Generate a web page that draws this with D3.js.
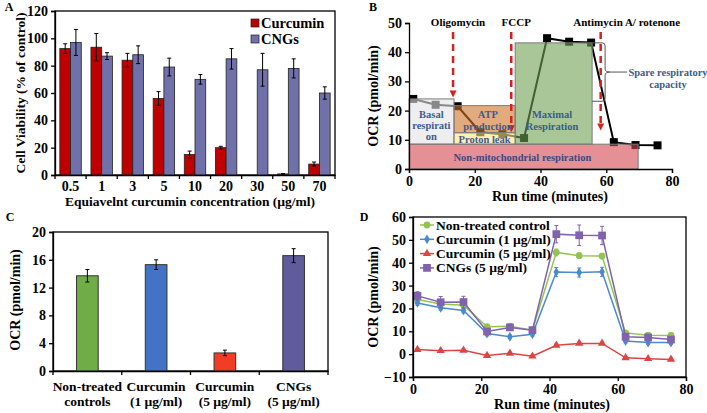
<!DOCTYPE html>
<html><head><meta charset="utf-8">
<script src="https://cdn.jsdelivr.net/npm/d3@7"></script>
<style>
body{margin:0;background:#fff;}
svg text{font-family:"Liberation Serif","Times New Roman",serif;font-weight:bold;}
</style></head>
<body><svg id="c" width="707" height="413"></svg>
<script>
// ---------- Panel A data ----------
const concLabels = ["0.5","1","3","5","10","20","30","50","70"];
const curcuminViab = [92.5,93.5,84,56,15,20,0,0.8,8];
const curcuminErr  = [3.5,10,5,5,2.5,1,0,0.3,1.5];
const cngViab = [97,87,88,79,70,85,77,78,60];
const cngErr  = [9.5,2.5,6.5,6.5,3.5,7.5,12,7,4.5];
const viabTicks = [0,20,40,60,80,100,120];

// ---------- Panel B data ----------
const runTimes = [1.3,8.1,14.8,21.7,28.4,35,42,48.7,55.4,62.3,68.9,75.6];
const ocrProfile = [24,22,21.5,12.6,11.9,10.6,44.8,43.6,43.3,9.2,8.2,8.1];
const profileBoxes = [
  {name:"basal", x0:0, x1:13.7, y0:8.5, y1:24},
  {name:"atp", x0:13.7, x1:32.3, y0:12.4, y1:21.7},
  {name:"leak", x0:13.7, x1:32.3, y0:8.5, y1:12.4},
  {name:"maximal", x0:32.3, x1:55.7, y0:8.5, y1:43.2},
  {name:"nonmito", x0:0, x1:69.7, y0:0, y1:8.5}
];
const injections = [
  {name:"Oligomycin", t:13.4, end:24.5},
  {name:"FCCP", t:31.1, end:12.6},
  {name:"Antimycin A/ rotenone", t:58.3, end:13.2}
];
const timeTicks = [0,20,40,60,80];
const ocrTicksB = [0,10,20,30,40,50];

// ---------- Panel C data ----------
const groupsC = [["Non-treated","controls"],["Curcumin","(1 µg/ml)"],["Curcumin","(5 µg/ml)"],["CNGs","(5 µg/ml)"]];
const ocrC = [13.7,15.3,2.6,16.6];
const ocrCErr = [0.9,0.7,0.4,1.0];
const ocrTicksC = [0,4,8,12,16,20];

// ---------- Panel D data ----------
const seriesNames = ["Non-treated control","Curcumin (1 µg/ml)","Curcumin (5 µg/ml)","CNGs (5 µg/ml)"];
const ctrlOCR = [23.9,21.9,21.4,12.0,12.2,10.5,44.5,43.1,42.9,9.3,8.3,8.2];
const ctrlErr = [1.2,1,1,1,1,1,1.5,1.2,1.2,1,1,1];
const cur1OCR = [22.4,20.3,19.1,9.0,7.6,8.7,35.9,35.7,36.0,5.7,5.1,5.1];
const cur1Err = [1,1,1,1,0.8,0.8,2,2,2,0.8,0.8,0.8];
const cur5OCR = [2.0,1.5,1.7,-0.6,0.4,-0.9,3.9,4.7,4.7,-1.6,-2.0,-2.3];
const cur5Err = [0.5,0.5,0.5,0.5,0.5,0.5,0.5,0.5,0.5,0.5,0.5,0.5];
const cngOCR = [25.5,22.7,22.8,9.9,11.7,10.5,52.5,52.0,51.9,7.6,7.3,6.4];
const cngOCRErr = [1.8,2.5,2.5,1,1,1,3.8,4.5,4];
const ocrTicksD = [-10,0,10,20,30,40,50,60];

const svg = d3.select("#c");
const FS = 13.5, TFS = 14;

function styleAxis(g){
  g.selectAll("path.domain").attr("stroke","#000").attr("stroke-width",1.3);
  g.selectAll(".tick line").attr("stroke","#000").attr("stroke-width",1.3);
  g.selectAll(".tick text").attr("font-size",TFS).attr("fill","#000")
    .style("font-family","'Liberation Serif',serif").style("font-weight","bold");
}
function errBar(g, x, yLo, yHi, cap, color){
  g.append("line").attr("x1",x).attr("x2",x).attr("y1",yLo).attr("y2",yHi).attr("stroke",color).attr("stroke-width",1);
  g.append("line").attr("x1",x-cap).attr("x2",x+cap).attr("y1",yHi).attr("y2",yHi).attr("stroke",color).attr("stroke-width",1);
  g.append("line").attr("x1",x-cap).attr("x2",x+cap).attr("y1",yLo).attr("y2",yLo).attr("stroke",color).attr("stroke-width",1);
}
function label(t,x,y,opts={}){
  const e = svg.append("text").attr("x",x).attr("y",y).text(t).attr("font-size",opts.size||FS)
    .attr("fill",opts.fill||"#000").attr("text-anchor",opts.anchor||"middle");
  if(opts.rotate) e.attr("transform",`rotate(-90,${x},${y})`);
  return e;
}

// =============== Panel A ===============
(function(){
  const x = d3.scaleBand().domain(concLabels).range([55,335]);
  const x1 = d3.scaleBand().domain(["cur","cng"]).range([0,x.bandwidth()]).paddingInner(0).paddingOuter(0.45);
  const y = d3.scaleLinear().domain([0,120]).range([175,11]);
  const g = svg.append("g");
  g.append("rect").attr("x",55).attr("y",11).attr("width",280).attr("height",164).attr("fill","none").attr("stroke","#000").attr("stroke-width",1.3);
  const sets = [{k:"cur",v:curcuminViab,e:curcuminErr,c:"#c00000"},{k:"cng",v:cngViab,e:cngErr,c:"#7070ab"}];
  sets.forEach(s=>{
    concLabels.forEach((c,i)=>{
      if(s.v[i]<=0) return;
      const bx = x(c)+x1(s.k);
      g.append("rect").attr("x",bx).attr("y",y(s.v[i])).attr("width",x1.bandwidth()).attr("height",y(0)-y(s.v[i]))
        .attr("fill",s.c).attr("stroke","#222").attr("stroke-width",0.8);
    });
  });
  sets.forEach(s=>{
    concLabels.forEach((c,i)=>{
      if(s.e[i]<=0) return;
      const cx = x(c)+x1(s.k)+x1.bandwidth()/2;
      errBar(g,cx,y(s.v[i]-s.e[i]),y(s.v[i]+s.e[i]),2,"#000");
    });
  });
  const ay = g.append("g").attr("transform","translate(55,0)").call(d3.axisLeft(y).tickValues(viabTicks).tickSize(4).tickPadding(3));
  styleAxis(ay);
  const ax = g.append("g").attr("transform","translate(0,175)").call(d3.axisBottom(x).tickSize(0).tickPadding(6));
  styleAxis(ax);
  concLabels.concat(["end"]).forEach((c,i)=>{
    const xx = i<concLabels.length? x(c): x.range()[1];
    g.append("line").attr("x1",xx).attr("x2",xx).attr("y1",175).attr("y2",179).attr("stroke","#000").attr("stroke-width",1.3);
  });
  // legend
  [["Curcumin","#c00000"],["CNGs","#7070ab"]].forEach((d,i)=>{
    g.append("rect").attr("x",251).attr("y",19+i*16).attr("width",8).attr("height",8).attr("fill",d[1]).attr("stroke","#222").attr("stroke-width",0.7);
    label(d[0],261,27.5+i*16,{anchor:"start",size:14.5});
  });
  label("Cell Viability (% of control)",25,93,{rotate:true});
  label("Equiavelnt curcumin concentration (µg/ml)",190,206);
  label("A",9,11,{size:12});
})();

// =============== Panel B ===============
(function(){
  const x = d3.scaleLinear().domain([0,80]).range([409,672]);
  const y = d3.scaleLinear().domain([0,50]).range([169,23]);
  const g = svg.append("g");
  const line = d3.line().x((d,i)=>x(runTimes[i])).y(d=>y(d));
  g.append("path").datum(ocrProfile).attr("d",line).attr("fill","none").attr("stroke","#000").attr("stroke-width",2);
  ocrProfile.forEach((v,i)=>{
    g.append("rect").attr("x",x(runTimes[i])-4).attr("y",y(v)-4).attr("width",8).attr("height",8).attr("fill","#000");
  });
  const fills = {basal:"rgb(227,227,230)",atp:"rgb(205,115,40)",leak:"rgb(252,230,130)",maximal:"rgb(110,160,83)",nonmito:"rgb(212,70,78)"};
  profileBoxes.forEach(b=>{
    g.append("rect").attr("x",x(b.x0)).attr("y",y(b.y1)).attr("width",x(b.x1)-x(b.x0)).attr("height",y(b.y0)-y(b.y1))
      .attr("fill",fills[b.name]).attr("fill-opacity",0.6).attr("stroke","#7a7a7a").attr("stroke-width",1);
  });
  const bx = x(55.7), top = y(43.2), bot = y(23.2), mid=(top+bot)/2, vx = bx+13;
  g.append("path").attr("d",`M${bx},${top} H${vx-3} Q${vx},${top} ${vx},${top+3} V${mid-3} Q${vx},${mid} ${vx+5},${mid} Q${vx},${mid} ${vx},${mid+3} V${bot-3} Q${vx},${bot} ${vx-3},${bot} H${bx}`)
    .attr("fill","none").attr("stroke","#555").attr("stroke-width",1);
  g.append("line").attr("x1",vx+5).attr("x2",vx+22).attr("y1",mid).attr("y2",mid).attr("stroke","#555").attr("stroke-width",1);
  const blue="#3d5c8c";
  label("Spare respiratory",668,76,{size:10.5,fill:blue});
  label("capacity",668,88,{size:10.5,fill:blue});
  injections.forEach(inj=>{
    const xx = x(inj.t), y0 = 32, y1 = y(inj.end);
    g.append("line").attr("x1",xx).attr("x2",xx).attr("y1",y0).attr("y2",y1-5).attr("stroke","#d62020").attr("stroke-width",2.5).attr("stroke-dasharray","7,5");
    g.append("path").attr("d",`M${xx-3.5},${y1-7} L${xx+3.5},${y1-7} L${xx},${y1} Z`).attr("fill","#d62020");
    label(inj.name, xx+ (inj.name.length>10? 26: (inj.name==="FCCP"?5:5)), 26,{size:11});
  });
  label("Basal",x(6.8),y(17.5),{size:10.5,fill:blue});
  label("respirati",x(6.8),y(13.7),{size:10.5,fill:blue});
  label("on",x(6.8),y(9.8),{size:10.5,fill:blue});
  label("ATP",x(24),y(17.6),{size:10.5,fill:blue});
  label("production",x(24),y(13.3),{size:10.5,fill:blue});
  label("Proton leak",x(23),y(8.9),{size:10.5,fill:blue});
  label("Maximal",x(43.5),y(17.6),{size:10.5,fill:blue});
  label("Respiration",x(43.5),y(13.5),{size:10.5,fill:blue});
  label("Non-mitochondrial respiration",x(34.5),y(2.6),{size:10.5,fill:"#3d4a80"});
  const ay = g.append("g").attr("transform","translate(409,0)").call(d3.axisLeft(y).tickValues(ocrTicksB).tickSize(4).tickPadding(3));
  styleAxis(ay);
  const ax = g.append("g").attr("transform","translate(0,169)").call(d3.axisBottom(x).tickValues(timeTicks).tickSize(4).tickPadding(3));
  styleAxis(ax);
  label("OCR (pmol/min)",378,96,{rotate:true,size:14});
  label("Run time (minutes)",550,201,{size:14});
  label("B",373,11,{size:12});
})();

// =============== Panel C ===============
(function(){
  const x = d3.scaleBand().domain(groupsC.map(d=>d.join(" "))).range([53,328]);
  const y = d3.scaleLinear().domain([0,20]).range([371,232]);
  const g = svg.append("g");
  g.append("rect").attr("x",53).attr("y",232).attr("width",275).attr("height",139).attr("fill","none").attr("stroke","#000").attr("stroke-width",1.3);
  const cols = ["#70ad47","#4472c4","#ef3e24","#5f5b9c"];
  const bw = x.bandwidth()*0.315;
  groupsC.forEach((gr,i)=>{
    const cx = x(gr.join(" "))+x.bandwidth()/2;
    g.append("rect").attr("x",cx-bw/2).attr("y",y(ocrC[i])).attr("width",bw).attr("height",y(0)-y(ocrC[i]))
      .attr("fill",cols[i]).attr("stroke","#333").attr("stroke-width",1);
    errBar(g,cx,y(ocrC[i]-ocrCErr[i]),y(ocrC[i]+ocrCErr[i]),2,"#000");
    label(gr[0],cx,391);
    label(gr[1],cx,406);
  });
  const ay = g.append("g").attr("transform","translate(53,0)").call(d3.axisLeft(y).tickValues(ocrTicksC).tickSize(4).tickPadding(3));
  styleAxis(ay);
  const ax = g.append("g").attr("transform","translate(0,371)").call(d3.axisBottom(x).tickSize(0).tickFormat(""));
  styleAxis(ax);
  groupsC.concat([null]).forEach((gr,i)=>{
    const xx = gr? x(gr.join(" ")) : x.range()[1];
    g.append("line").attr("x1",xx).attr("x2",xx).attr("y1",371).attr("y2",375).attr("stroke","#000").attr("stroke-width",1.3);
  });
  label("OCR (pmol/min)",20,300,{rotate:true,size:14});
  label("C",10,221,{size:12});
})();

// =============== Panel D ===============
(function(){
  const x = d3.scaleLinear().domain([0,80]).range([413,686]);
  const y = d3.scaleLinear().domain([-10,60]).range([377,217]);
  const g = svg.append("g");
  g.append("rect").attr("x",413).attr("y",217).attr("width",273).attr("height",160).attr("fill","none").attr("stroke","#000").attr("stroke-width",1.3);
  const series = [
    {v:ctrlOCR,e:ctrlErr,c:"#92c550",m:"circle"},
    {v:cur1OCR,e:cur1Err,c:"#4a89cf",m:"diamond"},
    {v:cur5OCR,e:cur5Err,c:"#dc4545",m:"triangle"},
    {v:cngOCR,e:cngOCRErr,c:"#8062ad",m:"square"}
  ];
  const symSize = {circle:36,diamond:28,triangle:30,square:60};
  const symType = {circle:d3.symbolCircle,diamond:d3.symbolDiamond,triangle:d3.symbolTriangle,square:d3.symbolSquare};
  const line = d3.line().x((d,i)=>x(runTimes[i])).y(d=>y(d));
  series.forEach(s=>{
    g.append("path").datum(s.v).attr("d",line).attr("fill","none").attr("stroke",s.c).attr("stroke-width",1.5);
    s.v.forEach((v,i)=>{
      const e = s.e[i]||1;
      errBar(g,x(runTimes[i]),y(v-e),y(v+e),2,s.c);
    });
    s.v.forEach((v,i)=>{
      g.append("path").attr("d",d3.symbol().type(symType[s.m]).size(symSize[s.m])())
        .attr("transform",`translate(${x(runTimes[i])},${y(v)})`).attr("fill",s.c);
    });
  });
  series.forEach((s,i)=>{
    const ly = 225+i*14.3;
    g.append("line").attr("x1",420).attr("x2",434).attr("y1",ly).attr("y2",ly).attr("stroke",s.c).attr("stroke-width",1.5);
    g.append("path").attr("d",d3.symbol().type(symType[s.m]).size(symSize[s.m])()).attr("transform",`translate(427,${ly})`).attr("fill",s.c);
    label(seriesNames[i],436,ly+4.5,{anchor:"start",size:13.5});
  });
  const ay = g.append("g").attr("transform","translate(413,0)").call(d3.axisLeft(y).tickValues(ocrTicksD).tickSize(4).tickPadding(3));
  styleAxis(ay);
  const ax = g.append("g").attr("transform","translate(0,377)").call(d3.axisBottom(x).tickValues(timeTicks).tickSize(4).tickPadding(3));
  styleAxis(ax);
  label("OCR (pmol/min)",378,297,{rotate:true,size:14});
  label("Run time (minutes)",552,409,{size:14});
  label("D",364,221,{size:12});
})();
</script></body></html>
